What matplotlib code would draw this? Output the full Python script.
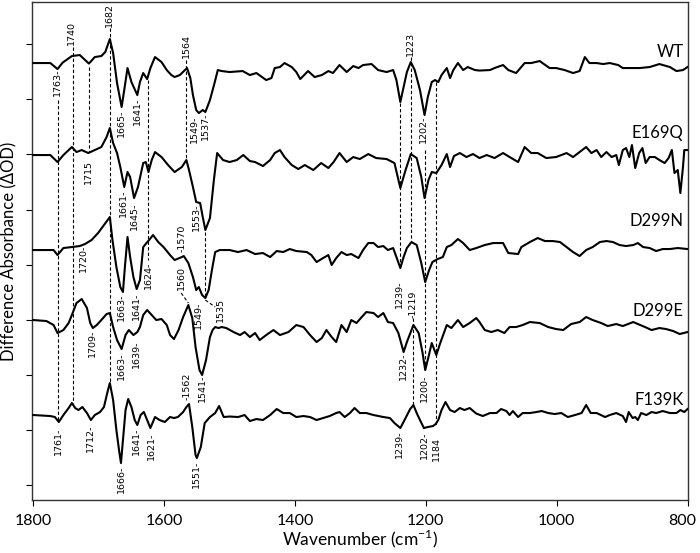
import numpy as np
import matplotlib.pyplot as plt
from matplotlib.transforms import ScaledTranslation

plt.rcParams['font.family'] = ['Lato', 'DejaVu Sans']
plt.rcParams['mathtext.fontset'] = 'custom'
plt.rcParams['mathtext.rm'] = 'Lato'

#! difference spectra (arb. units)
wt_wn = [1800, 1774, 1763, 1755, 1741, 1729, 1715, 1706, 1696, 1690, 1683, 1678, 1672, 1665, 1661,
         1656, 1650, 1641, 1637, 1632, 1626, 1621, 1614, 1604, 1596, 1589, 1584, 1576, 1565, 1560,
         1556, 1551, 1547, 1541, 1537, 1530, 1523, 1518, 1512, 1500, 1480, 1469, 1459, 1444, 1436,
         1431, 1423, 1416, 1405, 1398, 1392, 1380, 1370, 1359, 1349, 1342, 1332, 1321, 1311, 1303,
         1296, 1283, 1273, 1260, 1250, 1245, 1239, 1234, 1229, 1223, 1217, 1209, 1202, 1197, 1191,
         1186, 1181, 1176, 1168, 1163, 1158, 1151, 1143, 1136, 1125, 1118, 1102, 1095, 1082, 1074,
         1062, 1049, 1039, 1026, 1011, 1001, 988, 975, 965, 957, 950, 939, 929, 919, 906,
         899, 889, 873, 858, 843, 827, 817, 807, 800]
wt_dA = [-1, -1, -7, -0.5, 6, 7, -1.5, 5, 6, 10, 23, 9, -21, -45, -28,
         -6, -20, -33, -20, -11, -17, -6, 5, 0, -8, -13, -15, -13, -6, -16,
         -33, -48, -51, -48, -50, -38, -21, -8, -9, -10, -9, -13, -11, -18, -16,
         -6, -5, -1, -5, -10, -17, -9, -15, -13, -9, -11, -3, -10, -4, -6,
         -3, -2, -8, -10, -8, -18, -40, -25, -10, 0, -8, -28, -53, -35, -20,
         -18, -20, -13, -6, -16, -8, -1, -8, -5, -8, -8.5, -8, -6, -3, -8,
         -11, -1, -1, 1, -6, -6, -8, -11, -9, 5, -1, -1, -2, -1, -3,
         -6, -6, -6, -5, -2, -5, -9, -8, -5]

e169q_wn = [1800, 1774, 1763, 1754, 1741, 1734, 1726, 1716, 1706, 1696, 1688, 1683, 1678, 1672, 1667,
            1661, 1656, 1652, 1646, 1640, 1632, 1628, 1624, 1619, 1614, 1604, 1594, 1584, 1573, 1566,
            1562, 1556, 1551, 1545, 1541, 1537, 1530, 1524, 1519, 1510, 1500, 1489, 1479, 1469, 1461,
            1449, 1438, 1431, 1423, 1416, 1405, 1395, 1385, 1372, 1360, 1349, 1341, 1332, 1321, 1311,
            1301, 1288, 1276, 1260, 1248, 1239, 1231, 1223, 1214, 1207, 1202, 1196, 1191, 1184, 1176,
            1168, 1163, 1157, 1148, 1138, 1128, 1118, 1107, 1095, 1082, 1072, 1059, 1049, 1039, 1029,
            1016, 1001, 985, 975, 965, 955, 947, 939, 932, 924, 916, 909, 905, 899, 894,
            889, 885, 880, 874, 869, 864, 858, 850, 843, 835, 829, 824, 820, 815, 811,
            807, 805, 800]
e169q_dA = [0, 0, -7, 0, 8, 3, 5, 2, 5, 8, 18, 27, 12, 2, -12,
            -32, -17, -22, -43, -32, -8, -7, -17, -5, 3, -2, -10, -17, -12, -5,
            -15, -32, -47, -48, -62, -75, -63, -25, 2, -5, -7, -5, 0, -6, -7,
            -11, -5, 2, 5, -2, -10, -14, -10, -15, -8, -13, -7, 2, -7, -2,
            -4, 1, -3, -4, -8, -33, -15, 1, -3, -22, -43, -25, -17, -18, -10,
            1, -12, -1, 2, -2, 1, -3, 0, -3, 2, -2, -7, 8, 2, 2,
            -3, -2, 2, -2, 3, 8, 2, 5, -2, 3, -2, 0, -10, 5, 7,
            -2, 10, -13, 2, 7, -8, -2, -2, -5, -8, -3, 5, -18, -15, -38,
            -12, 5, 5]

d299n_wn = [1800, 1774, 1769, 1763, 1754, 1741, 1729, 1721, 1711, 1701, 1692, 1683, 1679, 1673, 1667,
            1663, 1660, 1656, 1652, 1647, 1642, 1637, 1632, 1627, 1623, 1617, 1609, 1601, 1591, 1584,
            1573, 1570, 1563, 1556, 1551, 1547, 1542, 1537, 1532, 1527, 1522, 1515, 1500, 1487, 1474,
            1461, 1449, 1438, 1428, 1418, 1408, 1398, 1382, 1375, 1367, 1357, 1349, 1344, 1337, 1329,
            1321, 1314, 1303, 1296, 1288, 1280, 1273, 1265, 1258, 1250, 1245, 1239, 1234, 1229, 1222,
            1214, 1207, 1201, 1195, 1190, 1182, 1174, 1168, 1161, 1151, 1143, 1133, 1123, 1110, 1097,
            1082, 1074, 1059, 1054, 1041, 1029, 1018, 1006, 995, 985, 975, 965, 955, 945, 934,
            924, 914, 904, 894, 883, 876, 868, 858, 848, 838, 827, 815, 800]
d299n_dA = [0, 0, 0, -5, 2, 3, 4, 6, 10, 17, 25, 33, 10, -17, -37,
            -42, -17, 13, -7, -27, -39, -30, 3, 7, 10, 15, 8, 3, -5, -10,
            -7, -6, -13, -27, -40, -37, -45, -48, -40, -20, -2, 0, 0, -2, 0,
            -4, -3, -7, -1, -2, 1, -1, -2, -5, -12, -8, -5, -15, -8, -2,
            -5, -4, -8, 0, 7, 7, 3, 4, 0, 2, -7, -18, -7, 2, 8,
            5, -13, -32, -20, -12, -9, -7, 3, 5, 11, 7, 0, 2, 5, 7,
            7, -3, -4, 3, 8, 12, 9, 9, 8, 3, -2, -6, 0, 3, 8,
            9, 8, 5, 4, 5, 7, 3, 2, -1, 1, 1, 2, 1]

d299e_wn = [1800, 1780, 1769, 1763, 1754, 1746, 1741, 1734, 1726, 1718, 1713, 1709, 1703, 1696, 1688,
            1683, 1678, 1672, 1665, 1659, 1654, 1647, 1641, 1637, 1632, 1626, 1619, 1612, 1604, 1596,
            1591, 1585, 1578, 1571, 1563, 1557, 1552, 1546, 1542, 1536, 1530, 1526, 1522, 1517, 1512,
            1505, 1494, 1484, 1477, 1469, 1461, 1454, 1444, 1433, 1423, 1410, 1398, 1387, 1377, 1367,
            1359, 1352, 1344, 1337, 1329, 1321, 1314, 1306, 1298, 1291, 1280, 1273, 1265, 1258, 1250,
            1242, 1234, 1229, 1219, 1211, 1205, 1201, 1196, 1191, 1184, 1178, 1168, 1161, 1151, 1143,
            1133, 1123, 1118, 1110, 1100, 1090, 1080, 1072, 1062, 1052, 1041, 1026, 1013, 1001, 990,
            978, 965, 955, 945, 932, 922, 909, 899, 883, 876, 865, 855, 843, 833, 822,
            812, 800]
d299e_dA = [0, -1, -5, -13, -10, -3, 5, 17, 21, 12, -3, -8, -5, 0, 6,
            7, -7, -20, -29, -15, -10, -15, -12, -7, 5, 10, 5, 0, 1, -5,
            -15, -19, -10, 3, 15, 2, -27, -50, -55, -40, -17, -10, -7, -8, -7,
            -8, -12, -15, -12, -17, -13, -20, -15, -10, -15, -12, -5, -7, -15, -22,
            -18, -10, -17, -22, -5, -12, 0, -3, 3, 8, 7, 3, 7, -2, -3,
            -13, -32, -22, -5, -13, -33, -50, -37, -23, -35, -23, -5, -8, 0, -7,
            -3, 2, -2, -10, -12, -10, -13, -7, -7, -5, -2, -3, -7, -9, -10,
            -4, -2, 3, 0, -3, -6, -4, -6, -2, -4, -7, -10, -8, -9, -11,
            -14, -12]

f139k_wn = [1800, 1774, 1767, 1761, 1754, 1746, 1741, 1736, 1731, 1725, 1718, 1712, 1706, 1698, 1692,
            1687, 1683, 1678, 1673, 1669, 1666, 1663, 1659, 1655, 1650, 1645, 1641, 1636, 1631, 1626,
            1621, 1614, 1607, 1599, 1591, 1585, 1579, 1571, 1566, 1562, 1557, 1552, 1550, 1544, 1538,
            1530, 1522, 1516, 1509, 1500, 1487, 1477, 1469, 1459, 1449, 1438, 1428, 1418, 1408, 1398,
            1387, 1377, 1367, 1357, 1347, 1337, 1332, 1324, 1316, 1309, 1301, 1291, 1280, 1265, 1255,
            1248, 1239, 1231, 1224, 1219, 1214, 1209, 1203, 1197, 1189, 1185, 1181, 1176, 1170, 1163,
            1156, 1148, 1141, 1133, 1123, 1113, 1102, 1092, 1085, 1077, 1072, 1067, 1059, 1052, 1041,
            1031, 1023, 1013, 1003, 993, 983, 972, 962, 955, 948, 939, 926, 919, 909, 899,
            894, 890, 884, 880, 876, 871, 863, 855, 848, 838, 827, 817, 811, 805, 800]
f139k_dA = [0, -1, -2, -7, 0, 7, 12, 7, 5, 8, 2, -5, 0, 3, 8,
            22, 32, 15, -15, -35, -48, -25, 5, 16, 8, -5, -10, 0, 3, -5,
            -13, -2, -5, -7, -2, -3, -2, 3, 8, 11, -12, -40, -43, -32, -8,
            -2, 2, 9, -2, -1.5, -2, 0, -6, -4, -5, 0, 6, 2, 2, -2,
            -1, -2, -5, -3, -1, 2, 3, -2, 2, 7, 2, 2, 0, -2, -3,
            -8, -13, -3, 6, 10, 2, -5, -13, -12, -11, -9, -5, 5, 13, 5,
            3, 7, 5, 7, 1.5, -1, 2, 2, 6, 4, 0, 4, -2, 2, 2,
            3, 4, 2, 1, 2, -2, 0, 2, 10, 2, 2, -2, 0, 2, -1,
            -7, 3, -3, -2, -5, 2, 0, 3, 2, 4, 2, 2, 5, 3, 6]

names = ['WT', 'E169Q', 'D299N', 'D299E', 'F139K']
spectra = [(wt_wn, wt_dA), (e169q_wn, e169q_dA), (d299n_wn, d299n_dA),
           (d299e_wn, d299e_dA), (f139k_wn, f139k_dA)]

# vertical stacking of the traces
offsets = [438, 345, 250, 180, 85]
name_y = [448, 367, 279, 189, 100]

# dashed guide lines: wavenumber, y from, y to
guides = [(1763, 400, 80), (1740, 453, 97), (1715, 433, 348), (1683, 472, 118),
          (1624, 420, 240), (1566, 440, 342), (1537, 268, 203), (1239, 397, 232),
          (1223, 443, 258), (1219, 182, 93), (1202, 350, 130), (1184, 418, 75)]

# peak labels: text, wavenumber, y, above/below
peak_labels = [
    ('1763-', 1763, 432, 'b'), ('1665-', 1665, 390, 'b'), ('1641-', 1641, 402, 'b'),
    ('1549-', 1553, 384, 'b'), ('1537-', 1537, 388, 'b'), ('1202-', 1203, 384, 'b'),
    ('1740', 1741, 455, 'a'), ('1682', 1684, 473, 'a'), ('1564', 1566, 442, 'a'),
    ('1223', 1223, 444, 'a'),
    ('1715', 1716, 340, 'b'), ('1661-', 1663, 310, 'b'), ('1645-', 1646, 297, 'b'),
    ('1553-', 1550, 297, 'b'),
    ('1720-', 1723, 255, 'b'), ('1663-', 1665, 207, 'b'), ('1641-', 1642, 207, 'b'),
    ('1624-', 1624, 238, 'b'), ('-1570', 1572, 248, 'a'), ('1560', 1574, 234, 'b'),
    ('1549-', 1547, 198, 'b'), ('1535', 1514, 202, 'b'), ('1239-', 1240, 220, 'b'),
    ('1709-', 1710, 170, 'b'), ('1663-', 1665, 148, 'b'), ('1639-', 1642, 160, 'b'),
    ('1541-', 1541, 125, 'b'), ('-1219', 1220, 182, 'a'), ('1232-', 1234, 148, 'b'),
    ('1200-', 1202, 125, 'b'),
    ('-1562', 1565, 100, 'a'), ('1761-', 1762, 72, 'b'), ('1712-', 1713, 75, 'b'),
    ('1666-', 1666, 34, 'b'), ('1641-', 1643, 72, 'b'), ('1621-', 1620, 67, 'b'),
    ('1551-', 1550, 39, 'b'), ('1239-', 1240, 70, 'b'), ('1202-', 1202, 68, 'b'),
    ('1184', 1184, 63, 'b'),
]


def main():
    fig = plt.figure(figsize=(7.0, 5.53), dpi=100)
    ax = fig.add_axes([0.0457, 0.0958, 0.937, 0.9005])

    for (wn, dA), off in zip(spectra, offsets):
        ax.plot(wn, np.array(dA) + off, color='black', lw=1.5, zorder=3)

    for wn, y0, y1 in guides:
        ax.plot([wn, wn], [y0, y1], color='black', lw=0.8, ls=(0, (3, 2)), zorder=2)
    # slanted leaders
    ax.plot([1574, 1563], [207, 197], color='black', lw=0.8, ls=(0, (3, 2)))
    ax.plot([1537, 1522], [200, 193], color='black', lw=0.8, ls=(0, (3, 2)))

    for txt, wn, y, pos in peak_labels:
        ax.text(wn, y, txt, rotation=90, ha='center', va='top' if pos == 'b' else 'bottom',
                fontsize=6.8, family='DejaVu Sans', zorder=4)

    for name, y in zip(names, name_y):
        ax.text(806, y, name, ha='right', va='center', fontsize=12)

    ax.set_xlim(1802, 799.5)
    ax.set_ylim(0, 498)
    ax.set_xticks([1800, 1600, 1400, 1200, 1000, 800])
    ax.set_yticks(15 + 55.1 * np.arange(9))
    ax.set_yticklabels([])
    ax.tick_params(axis='x', direction='out', length=4, labelsize=11.5, pad=6)
    ax.tick_params(axis='y', direction='out', length=4)
    # keep the last tick label inside the canvas
    last = ax.xaxis.get_major_ticks()[-1].label1
    last.set_transform(last.get_transform() + ScaledTranslation(-4 / 72, 0, fig.dpi_scale_trans))
    ax.set_xlabel('Wavenumber (cm$^{-1}$)', fontsize=12.5, labelpad=0)
    ax.set_ylabel('Difference Absorbance (ΔOD)', fontsize=12, labelpad=3)
    for s in ax.spines.values():
        s.set_color('#333333')
        s.set_linewidth(1)

    fig.savefig('out.png', dpi=100)


if __name__ == "__main__":
    main()
